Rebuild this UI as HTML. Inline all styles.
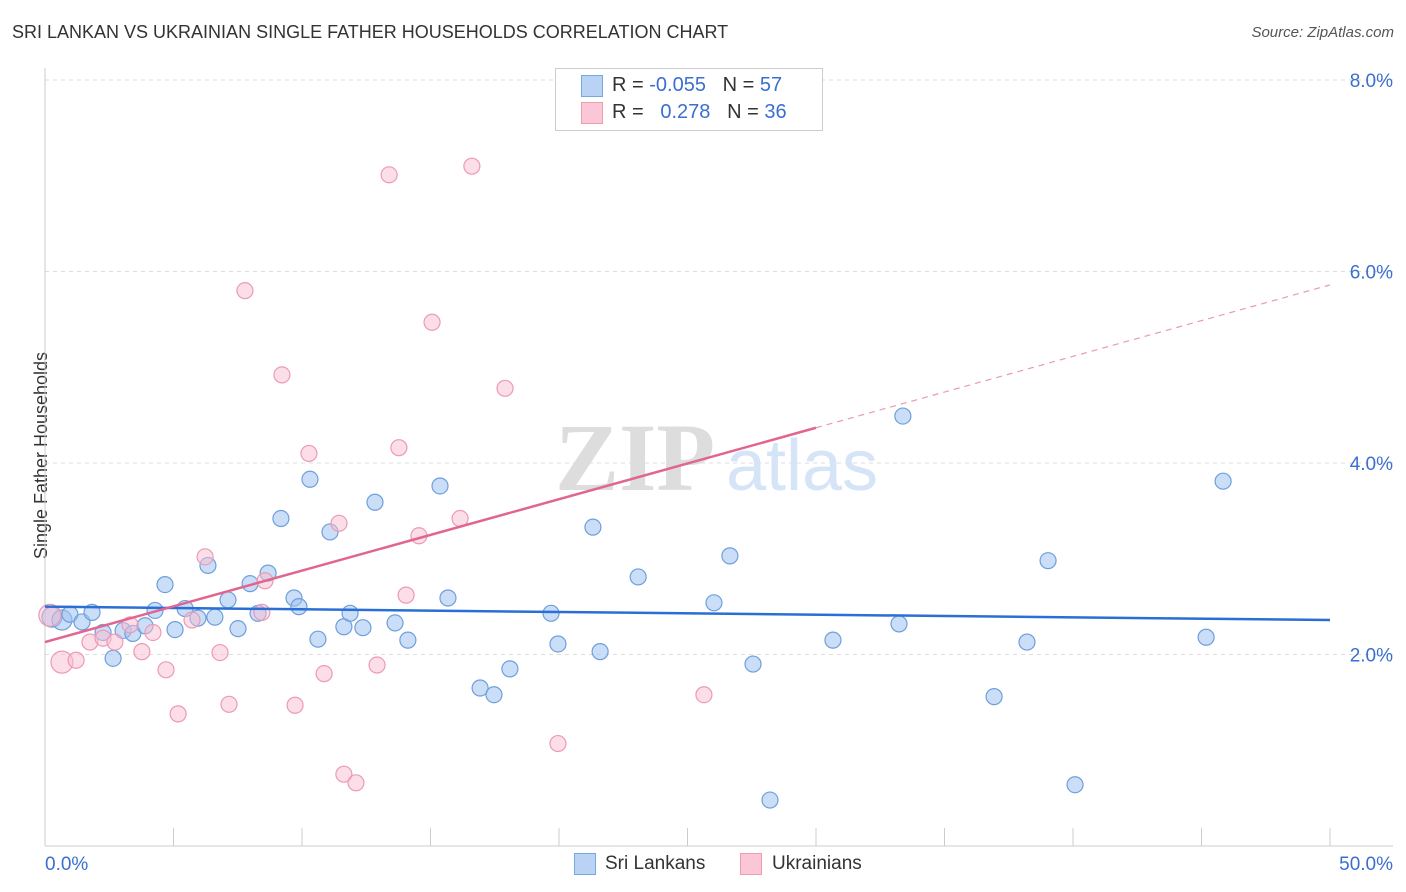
<!DOCTYPE html>
<html><head><meta charset="utf-8"><style>
body{margin:0;background:#fff;font-family:"Liberation Sans",sans-serif;}
#wrap{position:relative;width:1406px;height:892px;overflow:hidden;}
.t{position:absolute;white-space:nowrap;}
</style></head><body>
<div id="wrap">
<div class="t" style="left:12px;top:22px;font-size:18px;color:#333;">SRI LANKAN VS UKRAINIAN SINGLE FATHER HOUSEHOLDS CORRELATION CHART</div>
<div class="t" style="right:12px;top:24px;font-size:15px;color:#555;font-style:italic;">Source: ZipAtlas.com</div>
<div class="t" style="left:-62px;top:445px;font-size:18px;color:#333;transform:rotate(-90deg);">Single Father Households</div>
<svg id="plot" width="1406" height="892" style="position:absolute;left:0;top:0"></svg>
<div style="position:absolute;left:555px;top:68px;width:266px;height:61px;border:1px solid #ccc;background:#fff;"></div>
<div style="position:absolute;left:581px;top:75px;width:20px;height:20px;background:#b9d3f5;border:1px solid #7aa7e0;"></div>
<div style="position:absolute;left:581px;top:102px;width:20px;height:20px;background:#fbc6d6;border:1px solid #ee9bb5;"></div>
<div class="t" style="left:612px;top:74px;font-size:20px;color:#333;">R = <span style="color:#3a6fd0">-0.055</span>&nbsp;&nbsp;&nbsp;N = <span style="color:#3a6fd0">57</span></div>
<div class="t" style="left:612px;top:101px;font-size:20px;color:#333;">R = &nbsp;&nbsp;<span style="color:#3a6fd0">0.278</span>&nbsp;&nbsp;&nbsp;N = <span style="color:#3a6fd0">36</span></div>
<div style="position:absolute;left:574px;top:853px;width:20px;height:20px;background:#b9d3f5;border:1px solid #7aa7e0;"></div>
<div class="t" style="left:605px;top:853px;font-size:19px;color:#333;">Sri Lankans</div>
<div style="position:absolute;left:740px;top:853px;width:20px;height:20px;background:#fbc6d6;border:1px solid #ee9bb5;"></div>
<div class="t" style="left:772px;top:853px;font-size:19px;color:#333;">Ukrainians</div>
</div>
<script>
const blueX=[0.27,0.66,0.97,1.44,1.83,2.26,2.65,3.04,3.42,3.89,4.28,4.67,5.06,5.45,5.95,6.34,6.61,7.12,7.51,7.98,8.29,8.68,9.18,9.69,9.88,10.31,10.62,11.09,11.63,11.87,12.37,12.84,13.62,14.12,15.37,15.68,16.93,17.47,18.09,19.69,19.96,21.32,21.60,23.08,26.03,26.65,27.55,28.21,30.66,33.23,33.38,36.93,38.21,39.03,40.08,45.18,45.84];
const blueY=[2.39,2.36,2.42,2.34,2.44,2.23,1.96,2.25,2.22,2.30,2.46,2.73,2.26,2.48,2.38,2.93,2.39,2.57,2.27,2.74,2.43,2.85,3.42,2.59,2.50,3.83,2.16,3.28,2.29,2.43,2.28,3.59,2.33,2.15,3.76,2.59,1.65,1.58,1.85,2.43,2.11,3.33,2.03,2.81,2.54,3.03,1.90,0.48,2.15,2.32,4.49,1.56,2.13,2.98,0.64,2.18,3.81];
const pinkX=[0.19,0.66,1.21,1.75,2.26,2.72,3.31,3.77,4.20,4.71,5.18,5.72,6.23,6.81,7.16,7.78,8.44,8.56,9.22,9.73,10.27,10.86,11.44,11.63,12.10,12.92,13.39,13.77,14.05,14.55,15.06,16.15,16.61,17.90,19.96,25.64];
const pinkY=[2.41,1.92,1.94,2.13,2.17,2.13,2.31,2.03,2.23,1.84,1.38,2.36,3.02,2.02,1.48,5.80,2.44,2.77,4.92,1.47,4.10,1.80,3.37,0.75,0.66,1.89,7.01,4.16,2.62,3.24,5.47,3.42,7.10,4.78,1.07,1.58];
const blueTrend=[2.50,2.36];
const pinkTrend=[2.13,5.86];
const pinkSolidEnd=30;
const yTicks=[2,4,6,8];
const yTickLabels=["2.0%","4.0%","6.0%","8.0%"];
const xTicks=[0,5,10,15,20,25,30,35,40,45,50];
const xEndLabels=["0.0%","50.0%"];
const sx=v=>45+v*(1285/50);
const sy=v=>846-v*95.75;
const svg=document.getElementById('plot');
const NS='http://www.w3.org/2000/svg';
function mk(tag,attrs){const e=document.createElementNS(NS,tag);for(const k in attrs)e.setAttribute(k,attrs[k]);svg.appendChild(e);return e;}
yTicks.forEach((v,i)=>{
 const g=mk('line',{x1:45,x2:1393,y1:sy(v),y2:sy(v),stroke:'#ddd','stroke-dasharray':'4,4'});
 
 
 const t=mk('text',{x:1393,y:sy(v)+7,'text-anchor':'end','font-size':19,fill:'#3a6fd0','font-family':'Liberation Sans'});
 t.textContent=yTickLabels[i];
 
 
});
const ax=mk('line',{x1:45,x2:1393,y1:846,y2:846,stroke:'#ccc'});


const ay=mk('line',{x1:45,x2:45,y1:68,y2:846,stroke:'#ccc'});


xTicks.forEach(v=>{
 const l=mk('line',{x1:sx(v),x2:sx(v),y1:828,y2:846,stroke:'#ccc'});
 
 
});
[[0,'start',45],[50,'end',1393]].forEach((a,i)=>{
 const t=mk('text',{x:a[2],y:870,'text-anchor':a[1],'font-size':19,fill:'#3a6fd0','font-family':'Liberation Sans'});
 t.textContent=xEndLabels[i];
 
 
});
const w1=mk('text',{x:635,y:490,'text-anchor':'middle','font-size':96,fill:'#ddd','font-family':'Liberation Serif','font-weight':'bold'});
w1.textContent='ZIP';


const w2=mk('text',{x:802,y:490,'text-anchor':'middle','font-size':72,fill:'#d6e4f7','font-family':'Liberation Sans'});
w2.textContent='atlas';


blueX.forEach((x,i)=>{
 const c=mk('circle',{cx:sx(x),cy:sy(blueY[i]),r:i<2?10:8,fill:'rgba(160,195,240,0.55)',stroke:'#6e9fdc','stroke-width':1.2});
 
 
});
pinkX.forEach((x,i)=>{
 const c=mk('circle',{cx:sx(x),cy:sy(pinkY[i]),r:i<2?11:8,fill:'rgba(250,190,210,0.5)',stroke:'#ec9ab5','stroke-width':1.2});
 
 
});
const bt=mk('line',{x1:sx(0),y1:sy(blueTrend[0]),x2:sx(50),y2:sy(blueTrend[1]),stroke:'#2a6fd6','stroke-width':2.5});


const pAt=v=>pinkTrend[0]+(pinkTrend[1]-pinkTrend[0])*v/50;
const pt=mk('line',{x1:sx(0),y1:sy(pAt(0)),x2:sx(pinkSolidEnd),y2:sy(pAt(pinkSolidEnd)),stroke:'#e06690','stroke-width':2.5});


const pd=mk('line',{x1:sx(pinkSolidEnd),y1:sy(pAt(pinkSolidEnd)),x2:sx(50),y2:sy(pAt(50)),stroke:'#e89ab4','stroke-width':1.2,'stroke-dasharray':'6,5'});


</script>
</body></html>
